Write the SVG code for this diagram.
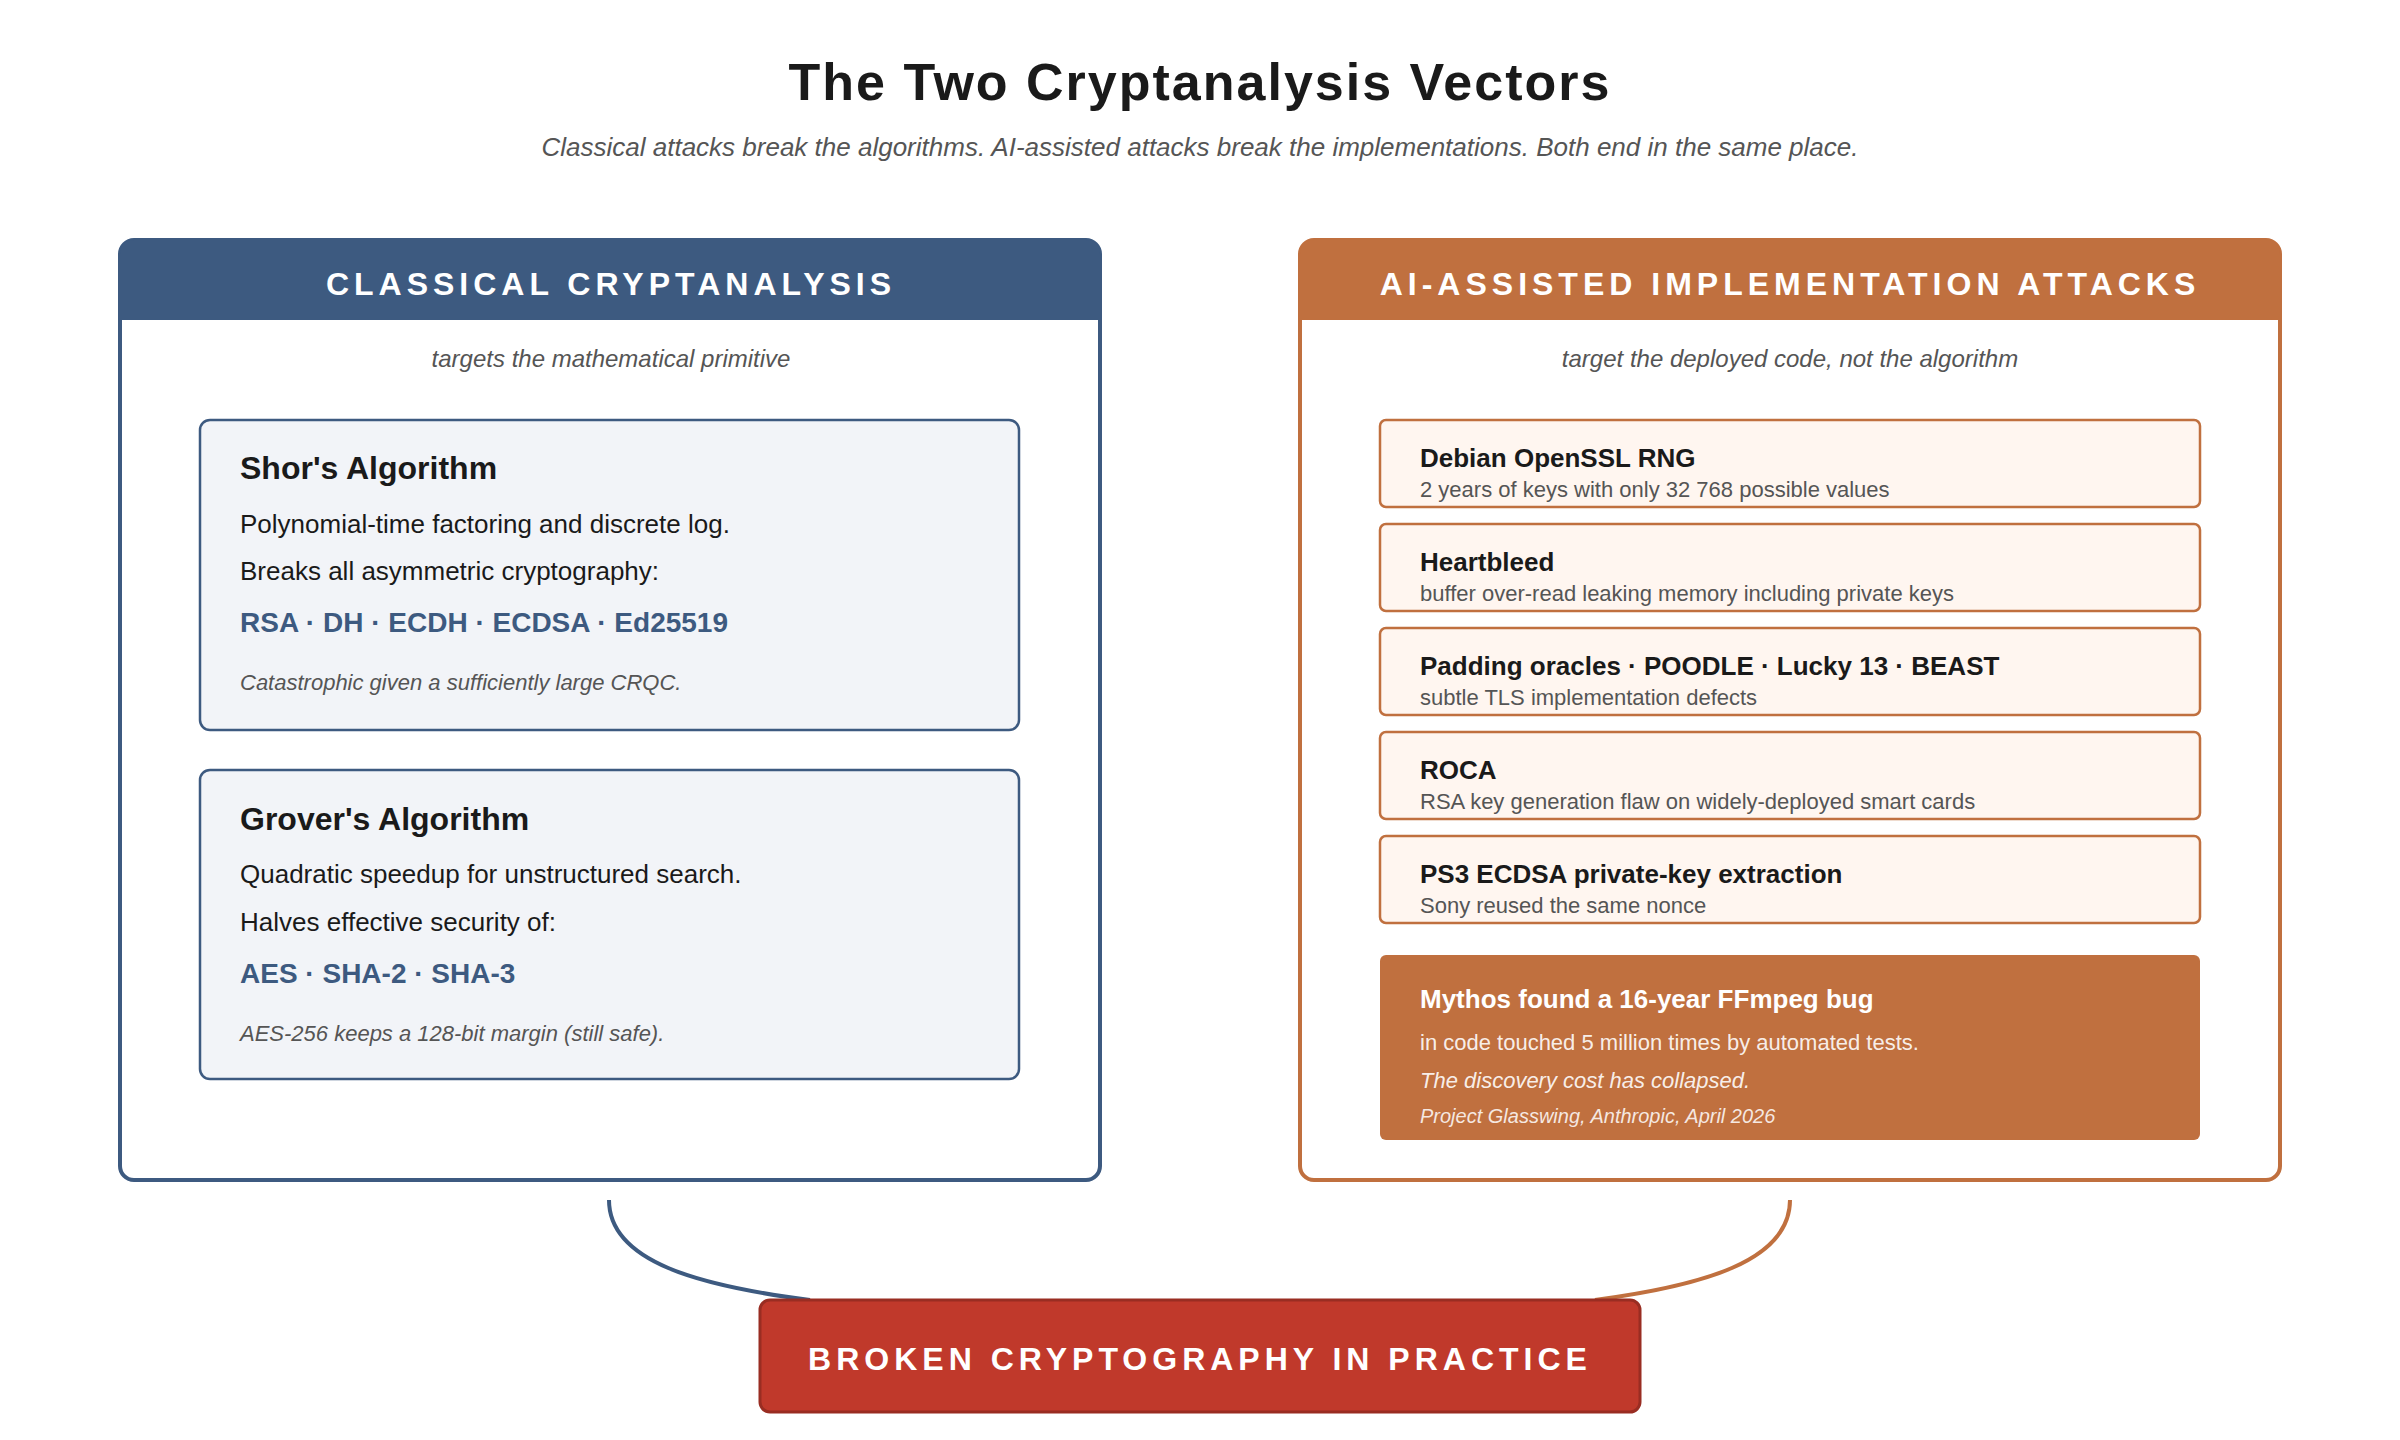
<svg xmlns="http://www.w3.org/2000/svg" width="2400" height="1440" viewBox="0 0 2400 1440">
<style>
text{font-family:"Liberation Sans",Arial,sans-serif}
.hdr{font-size:32px;font-weight:bold;fill:#fff;letter-spacing:5px;text-anchor:middle}
.sub{font-size:24px;font-style:italic;fill:#555;text-anchor:middle}
.bt{font-size:32px;font-weight:bold;fill:#1a1a1a}
.bx{font-size:26px;fill:#1a1a1a}
.bl{font-size:28px;font-weight:bold;fill:#3d5a80}
.bn{font-size:22px;font-style:italic;fill:#555}
.it{fill:#fff6f0;stroke:#c0703f;stroke-width:2.5}
.itt{font-size:26px;font-weight:bold;fill:#1a1a1a}
.its{font-size:22px;fill:#555}
.cb{fill:#f2f4f8;stroke:#3d5a80;stroke-width:2.5}
</style>
<rect width="2400" height="1440" fill="#fff"/>
<text x="1200" y="100" text-anchor="middle" font-size="52" font-weight="bold" fill="#1a1a1a" letter-spacing="2">The Two Cryptanalysis Vectors</text>
<text x="1200" y="156" text-anchor="middle" font-size="26" font-style="italic" fill="#555">Classical attacks break the algorithms. AI-assisted attacks break the implementations. Both end in the same place.</text>
<g id="connectors" fill="none" stroke-width="4">
<path d="M609 1200 C609 1262 700 1286 810 1300" stroke="#3d5a80"/>
<path d="M1790 1200 C1790 1262 1700 1286 1595 1300" stroke="#c0703f"/>
</g>
<g id="classical">
<rect x="120" y="240" width="980" height="940" rx="14" fill="#fff" stroke="#3d5a80" stroke-width="4"/>
<path d="M120 320 V254 Q120 240 134 240 H1086 Q1100 240 1100 254 V320 Z" fill="#3d5a80"/>
<text x="611" y="295" class="hdr">CLASSICAL CRYPTANALYSIS</text>
<text x="611" y="367" class="sub">targets the mathematical primitive</text>
</g>
<g id="shor">
<rect x="200" y="420" width="819" height="310" rx="10" class="cb"/>
<text x="240" y="479" class="bt">Shor's Algorithm</text>
<text x="240" y="533" class="bx">Polynomial-time factoring and discrete log.</text>
<text x="240" y="580" class="bx">Breaks all asymmetric cryptography:</text>
<text x="240" y="632" class="bl">RSA · DH · ECDH · ECDSA · Ed25519</text>
<text x="240" y="690" class="bn">Catastrophic given a sufficiently large CRQC.</text>
</g>
<g id="grover">
<rect x="200" y="770" width="819" height="309" rx="10" class="cb"/>
<text x="240" y="830" class="bt">Grover's Algorithm</text>
<text x="240" y="883" class="bx">Quadratic speedup for unstructured search.</text>
<text x="240" y="931" class="bx">Halves effective security of:</text>
<text x="240" y="983" class="bl">AES · SHA-2 · SHA-3</text>
<text x="240" y="1041" class="bn">AES-256 keeps a 128-bit margin (still safe).</text>
</g>
<g id="ai">
<rect x="1300" y="240" width="980" height="940" rx="14" fill="#fff" stroke="#c0703f" stroke-width="4"/>
<path d="M1300 320 V254 Q1300 240 1314 240 H2266 Q2280 240 2280 254 V320 Z" fill="#c0703f"/>
<text x="1790" y="295" class="hdr">AI-ASSISTED IMPLEMENTATION ATTACKS</text>
<text x="1790" y="367" class="sub">target the deployed code, not the algorithm</text>
</g>
<g id="debian"><rect x="1380" y="420" width="820" height="87" rx="6" class="it"/>
<text x="1420" y="467" class="itt">Debian OpenSSL RNG</text><text x="1420" y="497" class="its">2 years of keys with only 32 768 possible values</text></g>
<g id="heartbleed"><rect x="1380" y="524" width="820" height="87" rx="6" class="it"/>
<text x="1420" y="571" class="itt">Heartbleed</text><text x="1420" y="601" class="its">buffer over-read leaking memory including private keys</text></g>
<g id="padding"><rect x="1380" y="628" width="820" height="87" rx="6" class="it"/>
<text x="1420" y="675" class="itt">Padding oracles · POODLE · Lucky 13 · BEAST</text><text x="1420" y="705" class="its">subtle TLS implementation defects</text></g>
<g id="roca"><rect x="1380" y="732" width="820" height="87" rx="6" class="it"/>
<text x="1420" y="779" class="itt">ROCA</text><text x="1420" y="809" class="its">RSA key generation flaw on widely-deployed smart cards</text></g>
<g id="ps3"><rect x="1380" y="836" width="820" height="87" rx="6" class="it"/>
<text x="1420" y="883" class="itt">PS3 ECDSA private-key extraction</text><text x="1420" y="913" class="its">Sony reused the same nonce</text></g>
<g id="mythos"><rect x="1380" y="955" width="820" height="185" rx="6" fill="#c0703f"/>
<text x="1420" y="1008" class="itt" fill="#fff" style="fill:#fff">Mythos found a 16-year FFmpeg bug</text>
<text x="1420" y="1050" font-size="22" fill="#fff" fill-opacity="0.9">in code touched 5 million times by automated tests.</text>
<text x="1420" y="1088" font-size="22" font-style="italic" fill="#fff" fill-opacity="0.9">The discovery cost has collapsed.</text>
<text x="1420" y="1123" font-size="20" font-style="italic" fill="#fff" fill-opacity="0.85">Project Glasswing, Anthropic, April 2026</text></g>
<g id="broken"><rect x="760" y="1300" width="880" height="112" rx="10" fill="#c0392b" stroke="#992d22" stroke-width="3"/>
<text x="1200" y="1370" class="hdr">BROKEN CRYPTOGRAPHY IN PRACTICE</text></g>
</svg>
